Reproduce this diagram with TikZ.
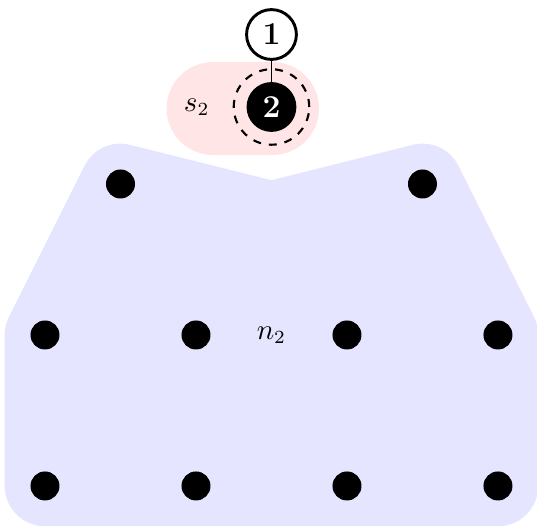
\documentclass[tikz,border=0pt]{standalone}
\usepackage{latexsym,amssymb}
\usetikzlibrary{calc,shapes}

\tikzset{
  dot/.style={draw,circle,fill=black,inner sep=0pt,minimum size=0.37cm},
  vnode/.style={draw,circle,line width=1.1pt,inner sep=0pt,minimum size=0.66cm,font=\large\bfseries},
  snode/.style={circle,fill=black,text=white,inner sep=0pt,minimum size=0.66cm,font=\large\bfseries},
  ring/.style={draw,circle,dashed,line width=0.8pt,inner sep=0pt,minimum size=1.0cm},
  lbl/.style={font=\fontsize{10.5}{12}\selectfont}
}

\begin{document}
\begin{tikzpicture}
          \useasboundingbox (-3.596,-2.543) rectangle (3.517,4.437);
          % regions
          \filldraw[blue!10,line width=1.067cm,line join=round] (-2,2) -- (0,1.5) -- (2,2) -- (3,0) -- (3,-2) -- (-3,-2) -- (-3,0) -- cycle;
          \draw[red!10,line width=1.24cm,line cap=round] (-0.77,3) -- (0.01,3);

          \node[vnode] (v1) at (0,3.98) {1};
          \node[snode] (v2) at (0,3.02) {2};
          \node[ring] (r2) at (0,3.02) {};
          \node[lbl] (s2) at (-0.99,3.02) {$s_2$};
          \path[line width=0.6pt] (v1) edge (v2);

          \node[dot] (d1) at (-2,2) {};
          \node[dot] (d2) at (2,2) {};
          \node[dot] (d3) at (-3,0) {};
          \node[dot] (d4) at (-1,0) {};
          \node[dot] (d5) at (1,0) {};
          \node[dot] (d6) at (3,0) {};
          \node[dot] (d7) at (-3,-2) {};
          \node[dot] (d8) at (-1,-2) {};
          \node[dot] (d9) at (1,-2) {};
          \node[dot] (d10) at (3,-2) {};
          \node[lbl] (n2) at (0,0) {$n_2$};
        \end{tikzpicture}
\end{document}
